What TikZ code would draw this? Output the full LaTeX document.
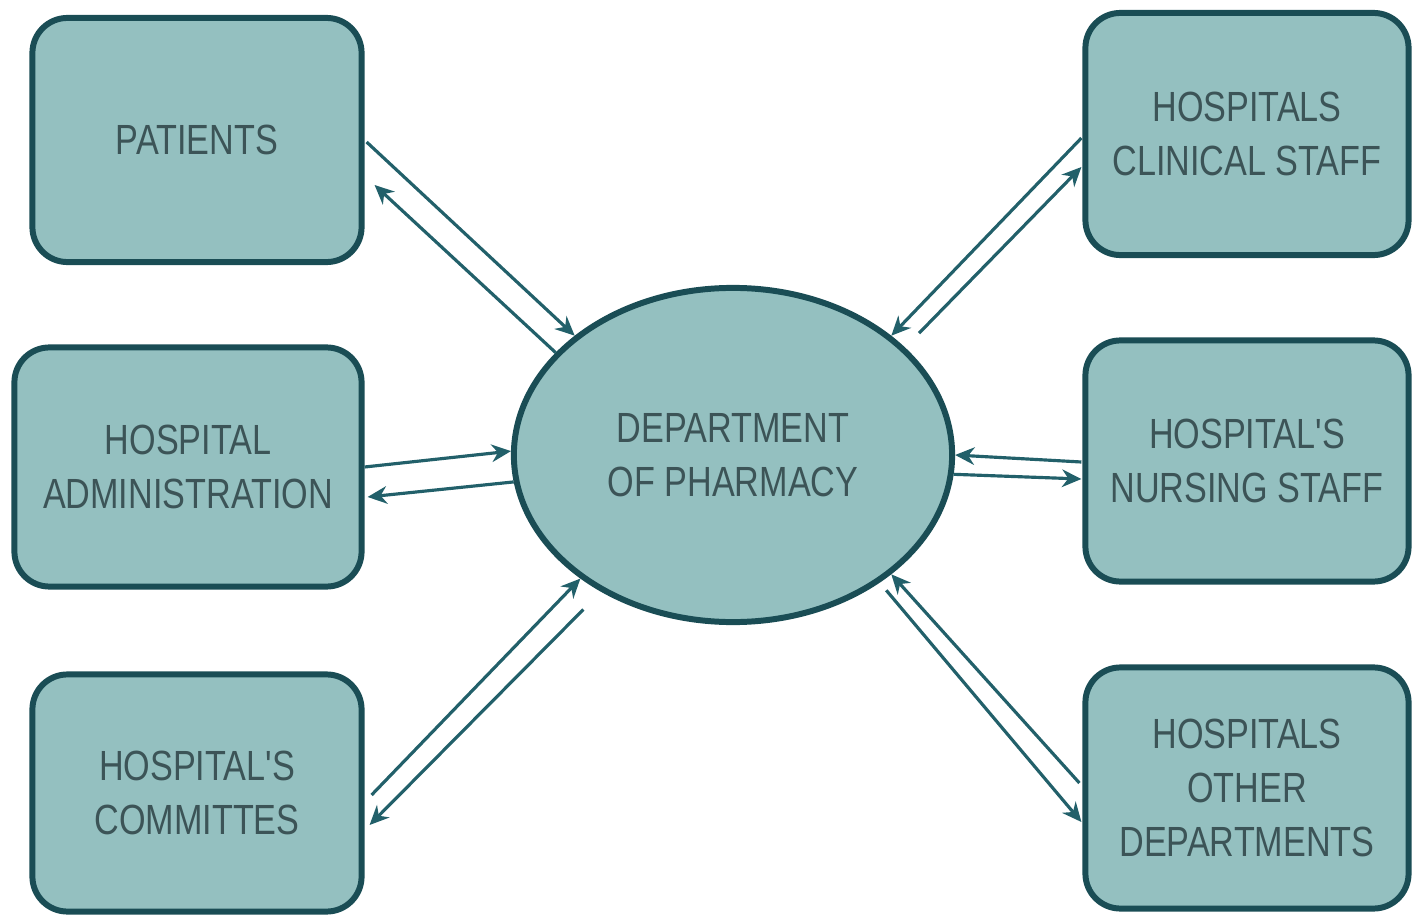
\documentclass[tikz,border=0pt]{standalone}
\usepackage{fontspec}
\newfontfamily\boxfont{Liberation Sans}[FakeStretch=0.81]
\usetikzlibrary{arrows.meta,shapes.geometric}
\definecolor{boxfill}{HTML}{94C0C0}
\definecolor{boxline}{HTML}{1A4D55}
\definecolor{boxtext}{HTML}{3C5457}
\definecolor{arrowcol}{HTML}{22606A}

\begin{document}
\begin{tikzpicture}[x=0.01cm, y=-0.01cm]
            \useasboundingbox (0,0) rectangle (1414,921);
            \begin{scope}[every node/.style={rectangle,rounded corners=0.35cm,draw=boxline,line width=1.7pt,fill=boxfill,text=boxtext,align=center,inner sep=0pt,font=\boxfont\fontsize{12}{15.4}\selectfont}]
            \node[minimum width=3.29cm,minimum height=2.44cm] (pat) at (197,140) {PATIENTS};
            \node[minimum width=3.47cm,minimum height=2.39cm] (adm) at (188,467) {HOSPITAL\\ADMINISTRATION};
            \node[minimum width=3.29cm,minimum height=2.37cm] (com) at (197,793) {HOSPITAL'S\\COMMITTES};
            \node[minimum width=3.23cm,minimum height=2.42cm] (cli) at (1247,134) {HOSPITALS\\CLINICAL STAFF};
            \node[minimum width=3.23cm,minimum height=2.41cm] (nur) at (1247,461) {HOSPITAL'S\\NURSING STAFF};
            \node[minimum width=3.23cm,minimum height=2.41cm] (oth) at (1247,788) {HOSPITALS\\OTHER\\DEPARTMENTS};
            \node[ellipse,minimum width=4.38cm,minimum height=3.34cm] (ph) at (733,455) {DEPARTMENT\\OF PHARMACY};
            \end{scope}
            \begin{scope}[every edge/.style={draw=arrowcol,line width=0.9pt,-{Stealth[length=5.5pt,width=5pt]}}]
            \draw ([shift={(2,2)}]pat.east) edge (ph.143);
            \draw (ph.150) edge ([shift={(10,45)}]pat.east);
            \draw (adm.east) edge (ph.179);
            \draw (ph.187) edge ([shift={(3,30)}]adm.east);
            \draw ([shift={(7,2)}]com.east) edge (ph.219);
            \draw (ph.226) edge[shorten <=0.25cm] ([shift={(5,32)}]com.east);
            \draw ([shift={(-1,4)}]cli.west) edge (ph.37);
            \draw (ph.32.5) edge[shorten <=0.2cm] ([shift={(-1,33)}]cli.west);
            \draw ([shift={(-1,1)}]nur.west) edge (ph.0);
            \draw (ph.-5) edge ([shift={(-1,18)}]nur.west);
            \draw ([shift={(-3,-5)}]oth.west) edge (ph.323);
            \draw (ph.319) edge[shorten <=0.1cm] ([shift={(-1,34)}]oth.west);
            \end{scope}
\end{tikzpicture}
\end{document}
